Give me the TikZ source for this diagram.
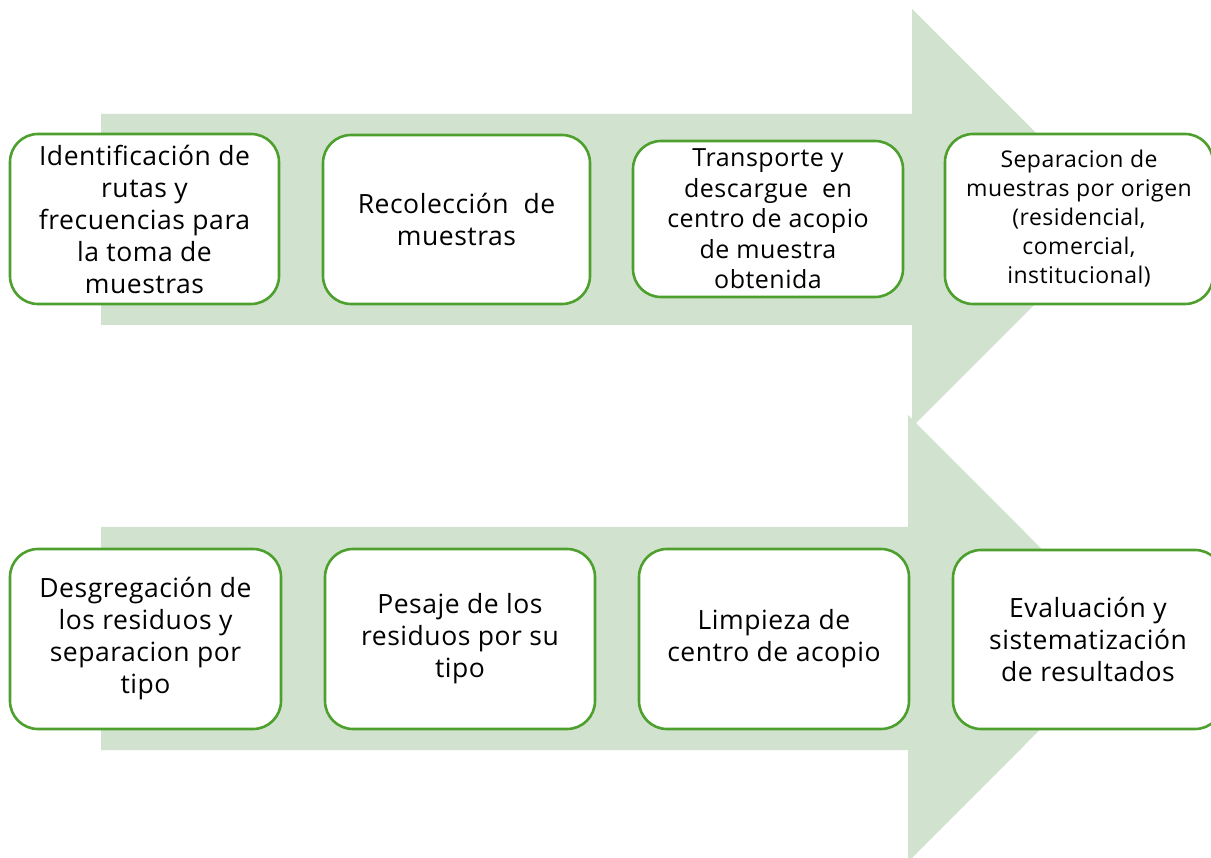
\documentclass[tikz,border=0pt]{standalone}
\usepackage{fontspec}
\setmainfont{Open Sans}[LetterSpace=2]
\definecolor{arrowfill}{RGB}{209,227,207}
\definecolor{boxline}{RGB}{78,160,46}
\tikzset{
  flowbox/.style={draw=boxline, line width=2.6pt, fill=white, rounded corners=28pt,
    align=center, inner sep=0pt, text=black},
  fbig/.style={font=\fontsize{26.5}{32}\selectfont},
  fmid/.style={font=\fontsize{25}{30.5}\selectfont},
  fsmall/.style={font=\fontsize{23}{29}\selectfont},
  bigarrow/.style={fill=arrowfill, draw=none}
}
\begin{document}
\begin{tikzpicture}[x=1pt,y=-1pt]
\useasboundingbox (0,0) rectangle (1211,858);
\clip (0,0) rectangle (1211,858);
% big arrows
\fill[bigarrow] (101,114) -- (912,114) -- (912,9) -- (1121,218) -- (912,427) -- (912,325) -- (101,325) -- cycle;
\fill[bigarrow] (101,527) -- (908,527) -- (908,415) -- (1131,638.5) -- (908,862) -- (908,750) -- (101,750) -- cycle;
% top row
\node[flowbox, fbig, minimum width=269pt, minimum height=170pt] (b1) at (144.5,219)
  {Identificación de\\rutas y\\frecuencias para\\la toma de\\muestras};
\node[flowbox, fbig, minimum width=267pt, minimum height=169pt] (b2) at (456.5,219.5)
  {Recolección~~de\\muestras};
\node[flowbox, fmid, minimum width=270pt, minimum height=156pt] (b3) at (768,219)
  {Transporte y\\descargue~~en\\centro de acopio\\de muestra\\obtenida};
\node[flowbox, fsmall, minimum width=268pt, minimum height=170pt] (b4) at (1079,219)
  {Separacion de\\muestras por origen\\(residencial,\\comercial,\\institucional)};
% bottom row
\node[flowbox, fbig, minimum width=271pt, minimum height=180pt] (b5) at (145.5,639)
  {Desgregación de\\los residuos y\\separacion por\\tipo};
\node[flowbox, fbig, minimum width=270pt, minimum height=180pt] (b6) at (460,639)
  {Pesaje de los\\residuos por su\\tipo};
\node[flowbox, fbig, minimum width=270pt, minimum height=180pt] (b7) at (774,639)
  {Limpieza de\\centro de acopio};
\node[flowbox, fbig, minimum width=270pt, minimum height=179pt] (b8) at (1088,639.5)
  {Evaluación y\\sistematización\\de resultados};
\end{tikzpicture}
\end{document}
